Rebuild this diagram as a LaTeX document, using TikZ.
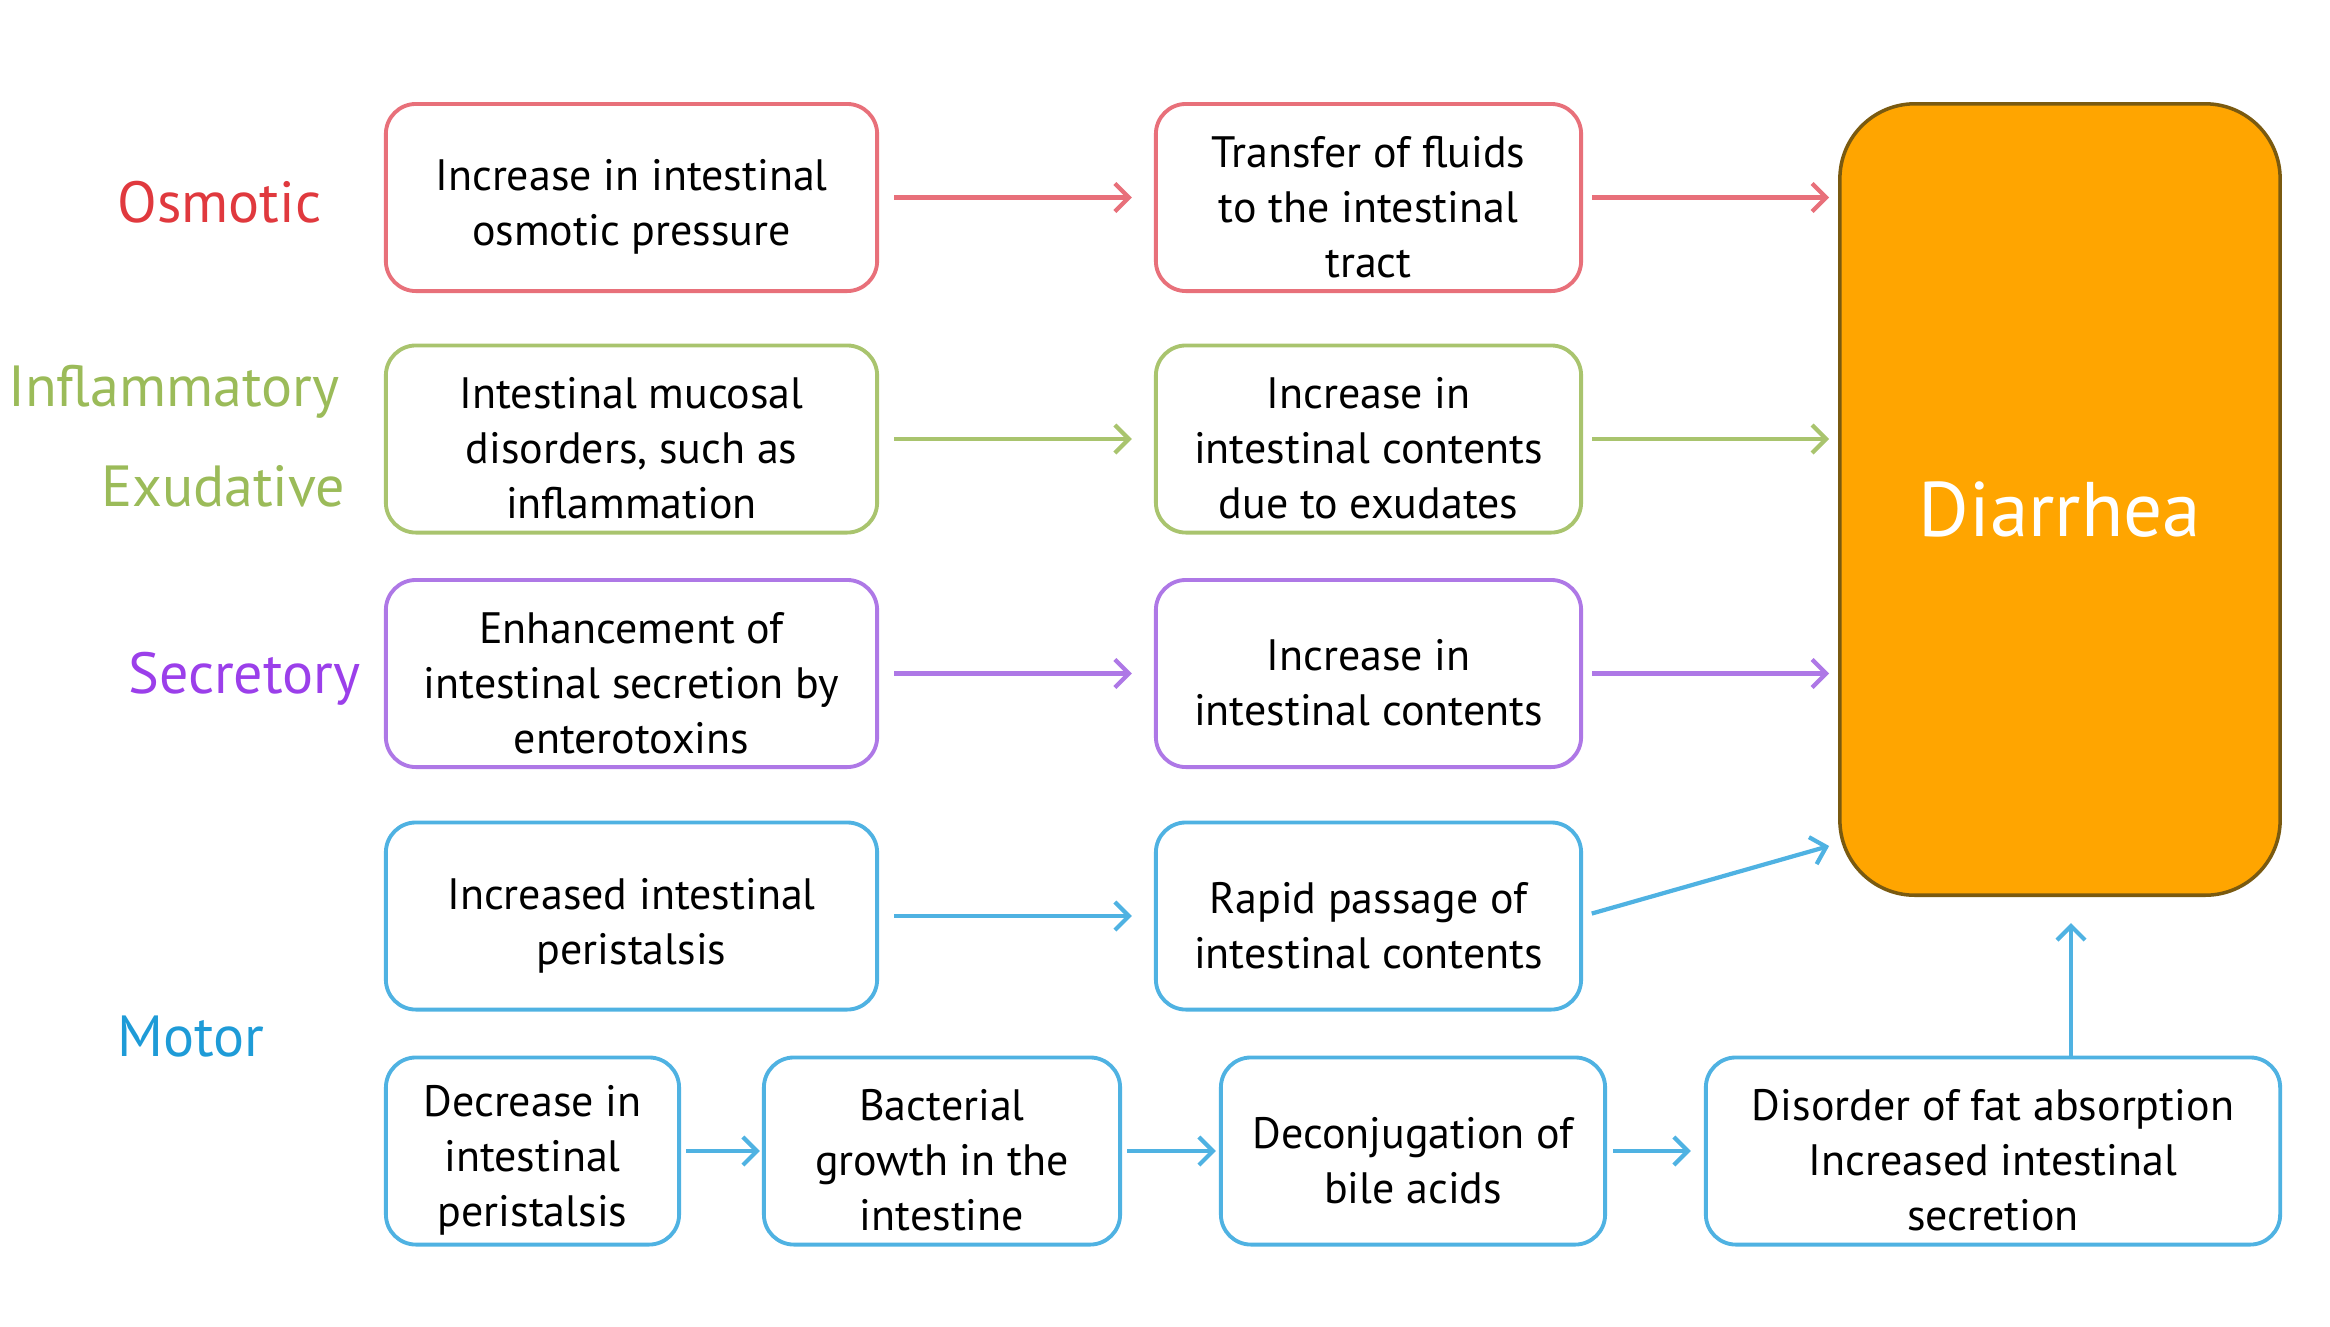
\documentclass[tikz,border=0pt]{standalone}
\usepackage{fontspec}
\setmainfont{PT Sans}
\usetikzlibrary{arrows.meta,calc}
\definecolor{cred}{HTML}{E0393E}
\definecolor{bred}{HTML}{E8707A}
\definecolor{cgreen}{HTML}{9BBB59}
\definecolor{bgreen}{HTML}{A9C46E}
\definecolor{cpurple}{HTML}{9B3FEA}
\definecolor{bpurple}{HTML}{AE78E6}
\definecolor{cblue}{HTML}{1E9BD7}
\definecolor{bblue}{HTML}{4FB2E2}
\definecolor{corange}{HTML}{FFA500}
\definecolor{dorange}{HTML}{7A5A10}
\newcommand{\tstrut}{\rule{0pt}{0.5cm}}
\tikzset{
  box/.style={draw, rounded corners=0.3cm, line width=1.1pt, align=center, fill=white,
    inner sep=0pt, minimum height=1.87cm, font=\fontsize{12.5}{15.6}\selectfont},
  lab/.style={font=\fontsize{16.5}{20}\selectfont, anchor=east, inner sep=0pt},
  arr/.style={line width=1.2pt, -{Straight Barb[length=0.14cm,width=0.28cm]}},
}
\begin{document}
\begin{tikzpicture}[x=0.01cm,y=-0.01cm]
\useasboundingbox (0,0) rectangle (2330,1326);
% labels
\node[lab, text=cred] (lo) at (322,202) {Osmotic};
\node[lab, text=cgreen] (li) at (340,392) {Inflammatory};
\node[lab, text=cgreen] (le) at (346,486) {Exudative};
\node[lab, text=cpurple] (ls) at (361,679) {Secretory};
\node[lab, text=cblue] (lm) at (265,1037) {Motor};
% column 1
\node[box, draw=bred, minimum width=4.91cm] (a1) at (631.5,197.5) {\tstrut Increase in intestinal\\osmotic pressure};
\node[box, draw=bgreen, minimum width=4.91cm] (a2) at (631.5,439) {\tstrut Intestinal mucosal\\disorders, such as\\inflammation};
\node[box, draw=bpurple, minimum width=4.91cm] (a3) at (631.5,673.5) {\tstrut Enhancement of\\intestinal secretion by\\enterotoxins};
\node[box, draw=bblue, minimum width=4.91cm] (a4) at (631.5,916) {\tstrut Increased intestinal\\peristalsis};
% column 2
\node[box, draw=bred, minimum width=4.25cm] (b1) at (1368.5,197.5) {\tstrut Transfer of fluids\\to the intestinal\\tract};
\node[box, draw=bgreen, minimum width=4.25cm] (b2) at (1368.5,439) {\tstrut Increase in\\intestinal contents\\due to exudates};
\node[box, draw=bpurple, minimum width=4.25cm] (b3) at (1368.5,673.5) {\tstrut Increase in\\intestinal contents};
\node[box, draw=bblue, minimum width=4.25cm] (b4) at (1368.5,916) {\tstrut Rapid passage of\\intestinal contents};
% bottom row
\node[box, draw=bblue, minimum width=2.93cm] (m1) at (532.5,1151) {\tstrut Decrease in\\intestinal\\peristalsis};
\node[box, draw=bblue, minimum width=3.56cm] (m2) at (942,1151) {\tstrut Bacterial\\growth in the\\intestine};
\node[box, draw=bblue, minimum width=3.84cm] (m3) at (1413,1151) {\tstrut Deconjugation of\\bile acids};
\node[box, draw=bblue, minimum width=5.74cm] (m4) at (1993,1151) {\tstrut Disorder of fat absorption\\Increased intestinal\\secretion};
% diarrhea
\node[draw=dorange, fill=corange, line width=1pt, rounded corners=0.75cm, minimum width=4.40cm,
  minimum height=7.91cm, inner sep=0pt, text=white, font=\fontsize{22}{26}\selectfont]
  (dia) at (2060,499.5) {\rule{0pt}{0.75cm}Diarrhea};
% arrows
\draw[arr, bred, shorten <=0.15cm, shorten >=0.22cm] (a1.east) -- (b1.west);
\draw[arr, bgreen, shorten <=0.15cm, shorten >=0.22cm] (a2.east) -- (b2.west);
\draw[arr, bpurple, shorten <=0.15cm, shorten >=0.22cm] (a3.east) -- (b3.west);
\draw[arr, bblue, shorten <=0.15cm, shorten >=0.22cm] (a4.east) -- (b4.west);
\draw[arr, bred, shorten <=0.09cm, shorten >=0.09cm] (b1.east) -- (b1.east -| dia.west);
\draw[arr, bgreen, shorten <=0.09cm, shorten >=0.09cm] (b2.east) -- (b2.east -| dia.west);
\draw[arr, bpurple, shorten <=0.09cm, shorten >=0.09cm] (b3.east) -- (b3.east -| dia.west);
\draw[arr, bblue, shorten <=0.09cm] (b4.east) -- ($(dia.south west)+(-9,-51)$);
\draw[arr, bblue, shorten <=0.05cm, shorten >=0.02cm] (m1.east) -- (m2.west);
\draw[arr, bblue, shorten <=0.05cm, shorten >=0.03cm] (m2.east) -- (m3.west);
\draw[arr, bblue, shorten <=0.06cm, shorten >=0.13cm] (m3.east) -- (m4.west);
\coordinate (vx) at (2071,0);
\draw[arr, bblue, shorten >=0.26cm] (m4.north -| vx) -- (dia.south -| vx);
\end{tikzpicture}
\end{document}
